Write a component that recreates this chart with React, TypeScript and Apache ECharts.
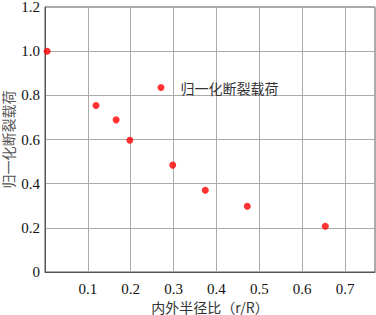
import React, { useEffect, useRef } from "react";
import * as echarts from "echarts";

const seriesName = "归一化断裂载荷";
const ratios = [0.005, 0.119, 0.166, 0.198, 0.298, 0.374, 0.472, 0.654];
const loads = [1.0, 0.754, 0.689, 0.597, 0.484, 0.37, 0.298, 0.207];
const xTicks = [0.1, 0.2, 0.3, 0.4, 0.5, 0.6, 0.7];
const yTicks = [0, 0.2, 0.4, 0.6, 0.8, 1.0, 1.2];

export default function App() {
  const ref = useRef<HTMLDivElement>(null);
  useEffect(() => {
    if (!ref.current) return;
    const chart = echarts.init(ref.current, undefined, { renderer: "svg" });
    const serif = "'Times New Roman', 'Liberation Serif', serif";
    const cjk = "'Noto Sans CJK SC', sans-serif";
    chart.setOption({
      animation: false,
      grid: {
        left: 45,
        right: 1,
        top: 7,
        bottom: 43,
        show: true,
        borderColor: "#555",
        borderWidth: 1,
        containLabel: false,
        outerBoundsMode: "none",
      },
      legend: {
        show: true,
        left: 157.5,
        top: 80.5,
        icon: "circle",
        itemWidth: 7,
        itemHeight: 7,
        itemGap: 0,
        padding: 0,
        data: [seriesName],
        textStyle: {
          fontFamily: cjk,
          fontSize: 14,
          color: "#333",
          padding: [0, 0, 0, 11],
        },
      },
      xAxis: {
        type: "value",
        min: 0,
        max: 0.77,
        interval: 0.1,
        name: "内外半径比（r/R）",
        nameLocation: "middle",
        nameGap: 28,
        nameMoveOverlap: false,
        nameTextStyle: { fontFamily: cjk, fontSize: 14, color: "#333" },
        axisLine: { show: true, lineStyle: { color: "#555", width: 1 } },
        axisTick: { show: false },
        splitLine: { show: true, lineStyle: { color: "#aaa", width: 1 } },
        axisLabel: {
          fontFamily: serif,
          fontSize: 15,
          color: "#111",
          margin: 9,
          showMinLabel: false,
          showMaxLabel: false,
          formatter: (v: number) =>
            xTicks.some((t) => Math.abs(t - v) < 1e-6) ? v.toFixed(1) : "",
        },
      },
      yAxis: {
        type: "value",
        min: 0,
        max: 1.2,
        interval: 0.2,
        name: seriesName,
        nameLocation: "middle",
        nameGap: 30,
        nameMoveOverlap: false,
        nameRotate: 90,
        nameTextStyle: { fontFamily: cjk, fontSize: 14, color: "#555" },
        axisLine: { show: true, lineStyle: { color: "#555", width: 1 } },
        axisTick: { show: false },
        splitLine: { show: true, lineStyle: { color: "#aaa", width: 1 } },
        axisLabel: {
          fontFamily: serif,
          fontSize: 15,
          color: "#111",
          margin: 5,
          formatter: (v: number) => {
            const t = yTicks.find((y) => Math.abs(y - v) < 1e-6);
            if (t === undefined) return "";
            return t === 0 ? "0" : t.toFixed(1);
          },
        },
      },
      series: [
        {
          name: seriesName,
          type: "scatter",
          symbol: "circle",
          symbolSize: 7,
          itemStyle: { color: "#ff0000" },
          data: ratios.map((r, i) => [r, loads[i]]),
        },
      ],
    });
    return () => chart.dispose();
  }, []);
  return <div ref={ref} style={{ width: 376, height: 315, position: "absolute", left: 0, top: 0 }} />;
}
